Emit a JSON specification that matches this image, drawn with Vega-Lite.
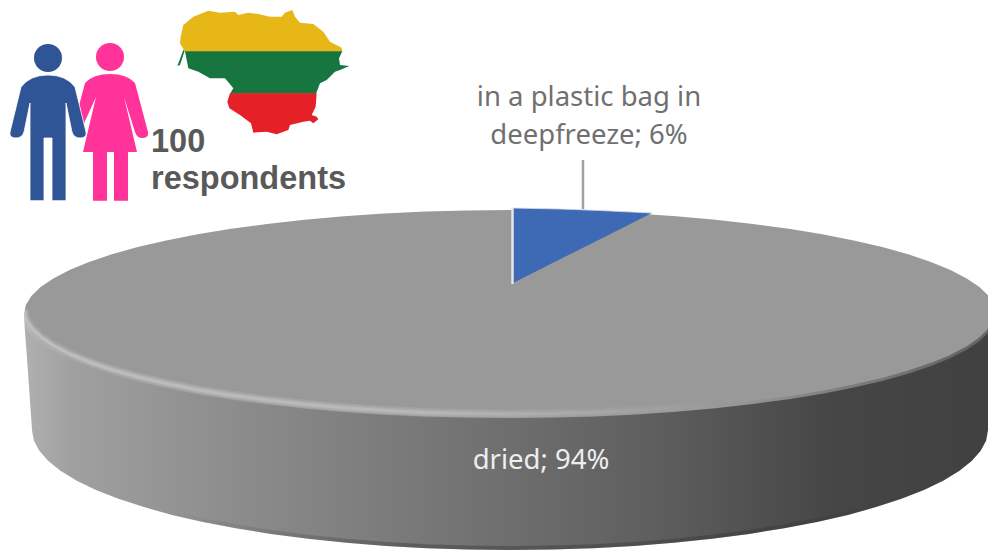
{
  "$schema": "https://vega.github.io/schema/vega-lite/v6.json",
  "width": 988,
  "height": 551,
  "padding": 0,
  "autosize": {"type": "none"},
  "background": "#ffffff",
  "config": {"view": {"stroke": null}},
  "datasets": {
    "side": [
      {"x":24,"y":314,"y2":318},{"x":28,"y":314,"y2":372},{"x":32,"y":314,"y2":430},{"x":33.8,"y":314,"y2":440.5},{"x":39.3,"y":314,"y2":450.8},{"x":48.3,"y":314,"y2":461.1},{"x":60.8,"y":314,"y2":471},{"x":76.8,"y":314,"y2":480.7},{"x":96,"y":314,"y2":490},{"x":118.4,"y":314,"y2":498.8},{"x":143.9,"y":314,"y2":507.1},{"x":172,"y":314,"y2":514.9},{"x":202.8,"y":314,"y2":521.9},{"x":235.8,"y":314,"y2":528.3},{"x":271,"y":314,"y2":533.9},{"x":308,"y":314,"y2":538.8},{"x":346.5,"y":314,"y2":542.8},{"x":386.3,"y":314,"y2":545.9},{"x":427,"y":314,"y2":548.2},{"x":468.3,"y":314,"y2":549.5},{"x":510,"y":314,"y2":550},
      {"x":551.7,"y":314,"y2":549.5},{"x":593,"y":314,"y2":548.2},{"x":633.7,"y":314,"y2":545.9},{"x":673.5,"y":314,"y2":542.8},{"x":712,"y":314,"y2":538.8},{"x":749,"y":314,"y2":533.9},{"x":784.2,"y":314,"y2":528.3},{"x":817.2,"y":314,"y2":521.9},{"x":848,"y":314,"y2":514.9},{"x":876.1,"y":314,"y2":507.1},{"x":901.6,"y":314,"y2":498.8},{"x":924,"y":314,"y2":490},{"x":943.2,"y":314,"y2":480.7},{"x":959.2,"y":314,"y2":471},{"x":971.7,"y":314,"y2":461.1},{"x":980.7,"y":314,"y2":450.8},{"x":986.2,"y":314,"y2":440.5},{"x":988,"y":314,"y2":430},{"x":992,"y":314,"y2":372},{"x":996,"y":314,"y2":318}
    ],
    "top": [
      {"x":24,"y":314,"y2":314},{"x":25.8,"y":304.9,"y2":323.1},{"x":31.4,"y":295.9,"y2":332.1},{"x":40.6,"y":287.1,"y2":340.9},{"x":53.3,"y":278.4,"y2":349.6},{"x":69.5,"y":270,"y2":358},{"x":89.1,"y":262,"y2":366},{"x":111.9,"y":254.3,"y2":373.7},{"x":137.7,"y":247.1,"y2":380.9},{"x":166.3,"y":240.5,"y2":387.5},{"x":197.6,"y":234.3,"y2":393.7},{"x":231.2,"y":228.8,"y2":399.2},{"x":267,"y":223.9,"y2":404.1},{"x":304.6,"y":219.7,"y2":408.3},{"x":343.8,"y":216.3,"y2":411.7},{"x":384.2,"y":213.5,"y2":414.5},{"x":425.6,"y":211.6,"y2":416.4},{"x":467.6,"y":210.4,"y2":417.6},{"x":510,"y":210,"y2":418},
      {"x":552.4,"y":210.4,"y2":417.6},{"x":594.4,"y":211.6,"y2":416.4},{"x":635.8,"y":213.5,"y2":414.5},{"x":676.2,"y":216.3,"y2":411.7},{"x":715.4,"y":219.7,"y2":408.3},{"x":753,"y":223.9,"y2":404.1},{"x":788.8,"y":228.8,"y2":399.2},{"x":822.4,"y":234.3,"y2":393.7},{"x":853.7,"y":240.5,"y2":387.5},{"x":882.3,"y":247.1,"y2":380.9},{"x":908.1,"y":254.3,"y2":373.7},{"x":930.9,"y":262,"y2":366},{"x":950.5,"y":270,"y2":358},{"x":966.7,"y":278.4,"y2":349.6},{"x":979.4,"y":287.1,"y2":340.9},{"x":988.6,"y":295.9,"y2":332.1},{"x":994.2,"y":304.9,"y2":323.1},{"x":996,"y":314,"y2":314}
    ],
    "wedge": [
      {"x":513,"y":208,"y2":283,"category":"in a plastic bag in deepfreeze"},
      {"x":560,"y":209,"y2":259.3,"category":"in a plastic bag in deepfreeze"},
      {"x":600,"y":210.5,"y2":239.2,"category":"in a plastic bag in deepfreeze"},
      {"x":652,"y":213,"y2":213,"category":"in a plastic bag in deepfreeze"}
    ]
  },
  "encoding": {
    "x": {"field": "x", "type": "quantitative", "axis": null, "scale": {"domain": [0, 988], "nice": false, "zero": false}},
    "y": {"field": "y", "type": "quantitative", "axis": null, "scale": {"domain": [551, 0], "nice": false, "zero": false}}
  },
  "layer": [
    {
      "data": {"name": "side"},
      "mark": {"type": "area", "orient": "vertical", "color": {"gradient": "linear", "x1": 0, "x2": 1, "y1": 0, "y2": 0, "stops": [
        {"offset": 0, "color": "#b0b0b0"},
        {"offset": 0.05, "color": "#a0a0a0"},
        {"offset": 0.2, "color": "#8e8e8e"},
        {"offset": 0.5, "color": "#6e6e6e"},
        {"offset": 0.65, "color": "#5e5e5e"},
        {"offset": 0.83, "color": "#464646"},
        {"offset": 1, "color": "#404040"}
      ]}},
      "encoding": {"y2": {"field": "y2"}}
    },
    {
      "data": {"name": "side"},
      "mark": {"type": "line", "strokeWidth": 4, "yOffset": -2, "stroke": {"gradient": "linear", "x1": 0, "x2": 1, "y1": 0, "y2": 0, "stops": [
        {"offset": 0, "color": "rgba(40,40,40,0)"},
        {"offset": 0.15, "color": "rgba(40,40,40,0)"},
        {"offset": 0.4, "color": "rgba(40,40,40,0.35)"},
        {"offset": 0.75, "color": "rgba(40,40,40,0.3)"},
        {"offset": 0.9, "color": "rgba(40,40,40,0)"},
        {"offset": 1, "color": "rgba(40,40,40,0)"}
      ]}},
      "encoding": {"y": {"field": "y2", "type": "quantitative"}}
    },
    {
      "data": {"name": "top"},
      "mark": {"type": "area", "orient": "vertical", "color": "#999999"},
      "encoding": {"y2": {"field": "y2"}}
    },
    {
      "data": {"name": "top"},
      "mark": {"type": "line", "strokeWidth": 9, "yOffset": -4, "stroke": {"gradient": "linear", "x1": 0, "x2": 1, "y1": 0, "y2": 0, "stops": [
        {"offset": 0, "color": "rgba(255,255,255,0.1)"},
        {"offset": 0.4, "color": "rgba(255,255,255,0.1)"},
        {"offset": 0.72, "color": "rgba(255,255,255,0)"},
        {"offset": 1, "color": "rgba(255,255,255,0)"}
      ]}},
      "encoding": {"y": {"field": "y2", "type": "quantitative"}}
    },
    {
      "data": {"name": "top"},
      "mark": {"type": "line", "strokeWidth": 6, "yOffset": -4, "stroke": {"gradient": "linear", "x1": 0, "x2": 1, "y1": 0, "y2": 0, "stops": [
        {"offset": 0, "color": "rgba(255,255,255,0.12)"},
        {"offset": 0.4, "color": "rgba(255,255,255,0.1)"},
        {"offset": 0.72, "color": "rgba(255,255,255,0)"},
        {"offset": 1, "color": "rgba(255,255,255,0)"}
      ]}},
      "encoding": {"y": {"field": "y2", "type": "quantitative"}}
    },
    {
      "data": {"name": "top"},
      "mark": {"type": "line", "strokeWidth": 3, "yOffset": -4, "stroke": {"gradient": "linear", "x1": 0, "x2": 1, "y1": 0, "y2": 0, "stops": [
        {"offset": 0, "color": "rgba(255,255,255,0.2)"},
        {"offset": 0.4, "color": "rgba(255,255,255,0.14)"},
        {"offset": 0.72, "color": "rgba(255,255,255,0)"},
        {"offset": 1, "color": "rgba(255,255,255,0)"}
      ]}},
      "encoding": {"y": {"field": "y2", "type": "quantitative"}}
    },
    {
      "data": {"name": "top"},
      "mark": {"type": "line", "strokeWidth": 4, "yOffset": -1, "stroke": {"gradient": "linear", "x1": 0, "x2": 1, "y1": 0, "y2": 0, "stops": [
        {"offset": 0, "color": "rgba(70,70,70,0)"},
        {"offset": 0.72, "color": "rgba(70,70,70,0)"},
        {"offset": 0.95, "color": "rgba(70,70,70,0.6)"},
        {"offset": 1, "color": "rgba(70,70,70,0.6)"}
      ]}},
      "encoding": {"y": {"field": "y2", "type": "quantitative"}}
    },
    {
      "data": {"name": "wedge"},
      "mark": {"type": "area", "orient": "vertical", "color": "#3e69b5"},
      "encoding": {"y2": {"field": "y2"}}
    },
    {
      "data": {"name": "wedge"},
      "mark": {"type": "line", "stroke": "#d5d9e2", "strokeWidth": 1.2, "opacity": 0.8},
      "encoding": {}
    },
    {
      "data": {"values": [{"x": 512.5, "y": 208, "y2": 284}]},
      "mark": {"type": "rule", "stroke": "#e6e6e6", "strokeWidth": 2.5},
      "encoding": {"y2": {"field": "y2"}}
    },
    {
      "data": {"values": [{"x": 583, "y": 160, "y2": 209}]},
      "mark": {"type": "rule", "stroke": "#a0a0a0", "strokeWidth": 2.5},
      "encoding": {"y2": {"field": "y2"}}
    },
    {
      "data": {"values": [{"x": 589, "y": 98, "label": "in a plastic bag in\ndeepfreeze; 6%"}]},
      "mark": {"type": "text", "font": "Noto Sans", "fontSize": 27.5, "color": "#707070", "align": "center", "baseline": "middle", "lineBreak": "\n", "lineHeight": 38},
      "encoding": {"text": {"field": "label"}}
    },
    {
      "data": {"values": [{"x": 541, "y": 461, "label": "dried; 94%"}]},
      "mark": {"type": "text", "font": "Noto Sans", "fontSize": 27.5, "color": "#eeeeee", "align": "center", "baseline": "middle"},
      "encoding": {"text": {"field": "label"}}
    },
    {
      "data": {"values": [{"x": 170, "y": 0, "band": "yellow"}]},
      "mark": {"type": "point", "filled": true, "opacity": 1, "size": 0.4444, "color": "#e7b717", "shape": "M45,155 L30,130 L32,110 L40,75 L70,50 L115,32 L150,38 L195,35 L205,45 L235,38 L265,42 L300,50 L335,50 L345,38 L367,30 L375,50 L390,68 L430,72 L460,95 L480,125 L515,143 L517,155 Z"}
    },
    {
      "data": {"values": [{"x": 170, "y": 0, "band": "green"}]},
      "mark": {"type": "point", "filled": true, "opacity": 1, "size": 0.4444, "color": "#177540", "shape": "M45,154 L517,154 L507,175 L510,195 L538,198 L510,210 L495,215 L470,240 L450,250 L438,281 L180,281 L190,265 L165,235 L120,235 L85,215 L55,205 Z M40,150 L44,152 L30,195 L22,198 Z"}
    },
    {
      "data": {"values": [{"x": 170, "y": 0, "band": "red"}]},
      "mark": {"type": "point", "filled": true, "opacity": 1, "size": 0.4444, "color": "#e52027", "shape": "M180,280 L440,280 L437,320 L425,345 L440,350 L445,358 L430,370 L420,362 L400,365 L360,375 L355,390 L320,403 L290,395 L250,398 L243,370 L210,345 L178,325 L172,305 Z"}
    },
    {
      "data": {"values": [{"x": 110, "y": 138, "person": "woman"}]},
      "mark": {"type": "point", "filled": true, "opacity": 1, "size": 4, "color": "#ff3399", "shape": "M0,-64 Q17,-64 25,-55 L38,-6 Q39,0 32,0 Q27,0 25,-6 L14,-41 L27,14 L18,14 L18,62.7 L4,62.7 L4,14 L-3,14 L-3,62.7 L-17,62.7 L-17,14 L-27,14 L-14,-41 L-30,-6 Q-33,0 -38,-6 L-25,-55 Q-17,-64 0,-64 Z"}
    },
    {
      "data": {"values": [{"x": 110, "y": 57, "person": "woman"}]},
      "mark": {"type": "point", "filled": true, "opacity": 1, "size": 784, "shape": "circle", "color": "#ff3399"}
    },
    {
      "data": {"values": [{"x": 48, "y": 138, "person": "man"}]},
      "mark": {"type": "point", "filled": true, "opacity": 1, "size": 4, "color": "#2f5597", "stroke": "#ffffff", "strokeWidth": 0.8, "shape": "M0,-63 Q18,-63 27,-51 L38,-6 Q39,0 32,0 Q26,0 24,-6 L18,-35 L18,62.7 L4,62.7 L4,0 L-4,0 L-4,62.7 L-18,62.7 L-18,-35 L-24,-6 Q-26,0 -32,0 Q-39,0 -38,-6 L-27,-51 Q-18,-63 0,-63 Z"}
    },
    {
      "data": {"values": [{"x": 48, "y": 58, "person": "man"}]},
      "mark": {"type": "point", "filled": true, "opacity": 1, "size": 784, "shape": "circle", "color": "#2f5597"}
    },
    {
      "data": {"values": [{"x": 151, "y": 152, "label": "100"}, {"x": 151, "y": 189, "label": "respondents"}]},
      "mark": {"type": "text", "font": "Liberation Sans", "fontWeight": "bold", "fontSize": 32.5, "color": "#595959", "align": "left", "baseline": "alphabetic"},
      "encoding": {"text": {"field": "label"}}
    }
  ]
}
